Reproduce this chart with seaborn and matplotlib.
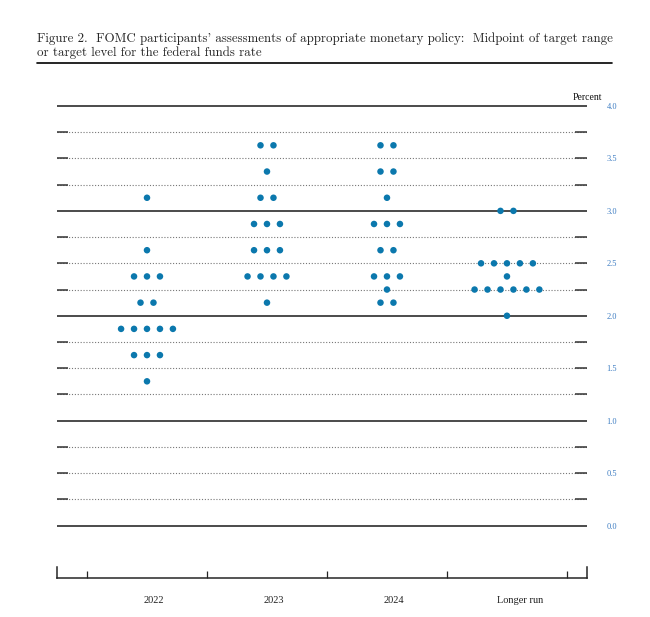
import matplotlib
matplotlib.use("Agg")
import matplotlib.pyplot as plt
import seaborn as sns
import numpy as np
import pandas as pd

sns.set_style("white")
plt.rcParams["font.family"] = ["Liberation Serif", "DejaVu Serif"]

# dot plot data: midpoint level and number of participants at it
periods = ["2022", "2023", "2024", "Longer run"]
rates_2022 = [3.125, 2.625, 2.375, 2.125, 1.875, 1.625, 1.375]
counts_2022 = [1, 1, 3, 2, 5, 3, 1]
rates_2023 = [3.625, 3.375, 3.125, 2.875, 2.625, 2.375, 2.125]
counts_2023 = [2, 1, 2, 3, 3, 4, 1]
rates_2024 = [3.625, 3.375, 3.125, 2.875, 2.625, 2.375, 2.25, 2.125]
counts_2024 = [2, 2, 1, 3, 2, 3, 1, 2]
rates_lr = [3.0, 2.5, 2.375, 2.25, 2.0]
counts_lr = [2, 5, 1, 6, 1]
right_ticks = [0.0, 0.5, 1.0, 1.5, 2.0, 2.5, 3.0, 3.5, 4.0]

title = ("Figure 2.  FOMC participants' assessments of appropriate monetary policy:  "
         "Midpoint of target range\nor target level for the federal funds rate")

dot_gap = 0.108
rows = []
for i, (rates, counts) in enumerate([(rates_2022, counts_2022), (rates_2023, counts_2023),
                                     (rates_2024, counts_2024), (rates_lr, counts_lr)]):
    for r, n in zip(rates, counts):
        for k in range(n):
            rows.append({"period": periods[i], "x": i + (k - (n - 1) / 2) * dot_gap, "rate": r})
df = pd.DataFrame(rows)

fig = plt.figure(figsize=(6.5, 6.17), dpi=100)
ax = fig.add_axes([57 / 650, 39 / 617, 530 / 650, 478 / 617])
xmin, xmax = -0.75, 3.667
ax.set_xlim(xmin, xmax)
ax.set_ylim(-0.5, 4.057)

# horizontal grid: solid at whole numbers, dotted with solid stubs otherwise
for lv in np.arange(0, 4.01, 0.25):
    if abs(lv - round(lv)) < 1e-9:
        ax.hlines(lv, xmin, xmax, color="#1a1a1a", lw=1.1, zorder=1)
    else:
        ax.hlines(lv, xmin, xmax, color="#777777", lw=0.8, linestyles=(0, (1, 1.6)), zorder=1)
        ax.hlines(lv, xmin, xmin + 0.09, color="#333333", lw=1.1, zorder=1)
        ax.hlines(lv, xmax - 0.1, xmax, color="#333333", lw=1.1, zorder=1)

sns.scatterplot(data=df, x="x", y="rate", color="#0b78ad", s=22, edgecolor="none",
                ax=ax, legend=False, zorder=3)

ax.spines["top"].set_visible(False)
ax.spines["bottom"].set_position(("data", -0.5))
ax.spines["bottom"].set_linewidth(1.1)
ax.spines["left"].set_bounds(-0.5, -0.395)
ax.spines["right"].set_bounds(-0.5, -0.395)
ax.spines["left"].set_linewidth(1.1)
ax.spines["right"].set_linewidth(1.1)

ax.set_xticks([-0.5, 0.5, 1.5, 2.5, 3.5])
ax.tick_params(axis="x", direction="in", length=5, width=0.9, labelbottom=False, bottom=True)
ax.yaxis.tick_right()
ax.set_yticks(right_ticks)
ax.set_yticklabels([f"{v:.1f}" for v in right_ticks])
ax.tick_params(axis="y", length=0, pad=14, labelsize=6, labelcolor="#3c7cc2")
ax.set_xlabel("")
ax.set_ylabel("")

for i, p in enumerate(periods):
    off = 0.11 if p == "Longer run" else 0.06
    ax.text(i + off, -0.71, p, ha="center", va="center", fontsize=7.5, color="#222222")

ax.text(xmax + 0.125, 4.08, "Percent", ha="right", va="center", fontsize=7, color="#111111")

fig.text(37 / 650, 1 - 32 / 617, title, ha="left", va="top", fontsize=9.3,
         family=["cmr10", "DejaVu Serif"], linespacing=1.22)
fig.add_artist(plt.Line2D([37 / 650, 612 / 650], [1 - 63 / 617, 1 - 63 / 617],
                          color="black", lw=1.2, transform=fig.transFigure))

fig.savefig("out.png", dpi=100)
